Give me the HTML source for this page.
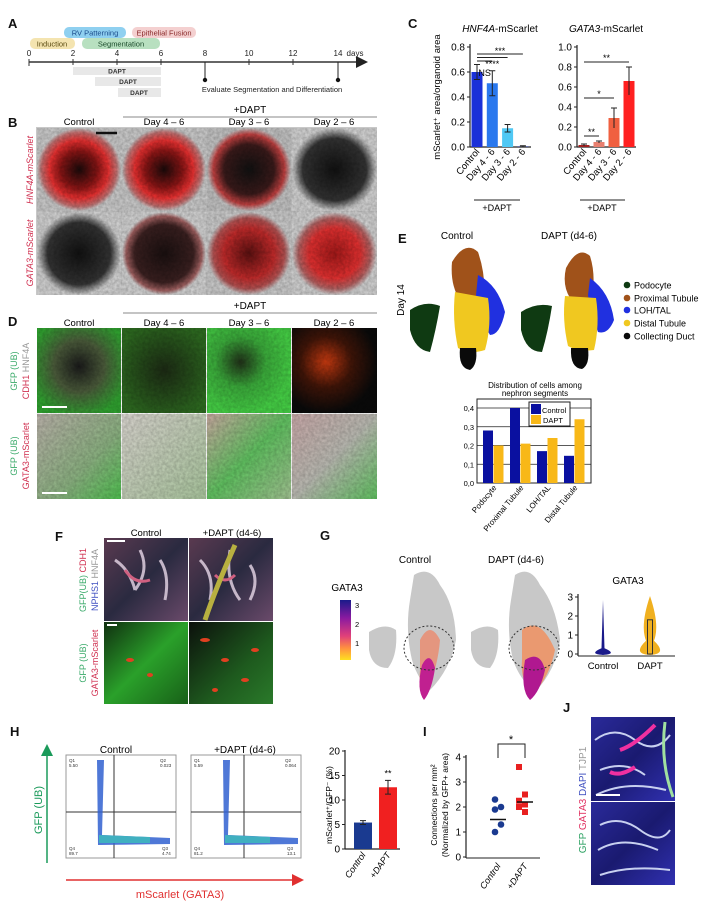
<!DOCTYPE html>
<html><head><meta charset="utf-8">
<style>
html,body{margin:0;padding:0;background:#fff;}
svg{display:block;font-family:"Liberation Sans",Arial,sans-serif;}
</style></head>
<body>
<svg id="fig" width="711" height="904" viewBox="0 0 711 904" xmlns="http://www.w3.org/2000/svg">
<defs>
<filter id="tex" x="0" y="0" width="100%" height="100%"><feTurbulence type="fractalNoise" baseFrequency="0.35" numOctaves="2" seed="3"/><feColorMatrix type="matrix" values="0 0 0 0 0  0 0 0 0 0  0 0 0 0 0  0 0 0 0.6 -0.1"/><feComposite in2="SourceGraphic" operator="in"/></filter>
<radialGradient id="bRed1" cx="50%" cy="50%" r="50%"><stop offset="0" stop-color="#1a0a0a"/><stop offset="0.45" stop-color="#8a1515"/><stop offset="0.7" stop-color="#e83030"/><stop offset="0.9" stop-color="#c07070"/><stop offset="1" stop-color="#c8c8c8"/></radialGradient>
<radialGradient id="bRed2" cx="50%" cy="50%" r="50%"><stop offset="0" stop-color="#111"/><stop offset="0.6" stop-color="#3a1a1a"/><stop offset="0.85" stop-color="#c04040"/><stop offset="1" stop-color="#c0c0c0"/></radialGradient>
<radialGradient id="bDark" cx="50%" cy="50%" r="50%"><stop offset="0" stop-color="#111"/><stop offset="0.75" stop-color="#333"/><stop offset="1" stop-color="#d0d0d0"/></radialGradient>
<radialGradient id="bDark2" cx="50%" cy="50%" r="50%"><stop offset="0" stop-color="#1a1010"/><stop offset="0.7" stop-color="#3a2020"/><stop offset="0.9" stop-color="#a06060"/><stop offset="1" stop-color="#d0d0d0"/></radialGradient>
<radialGradient id="bRedS" cx="50%" cy="50%" r="50%"><stop offset="0" stop-color="#5a1010"/><stop offset="0.6" stop-color="#c02a2a"/><stop offset="0.85" stop-color="#b05050"/><stop offset="1" stop-color="#c8c8c8"/></radialGradient>
<radialGradient id="bRedB" cx="50%" cy="50%" r="50%"><stop offset="0" stop-color="#a01818"/><stop offset="0.6" stop-color="#e03030"/><stop offset="0.85" stop-color="#b06060"/><stop offset="1" stop-color="#cfcfcf"/></radialGradient>
<radialGradient id="dC" cx="50%" cy="45%" r="60%"><stop offset="0" stop-color="#1a1a1a"/><stop offset="0.5" stop-color="#4a5a3a"/><stop offset="1" stop-color="#2fa02f"/></radialGradient>
<radialGradient id="d4" cx="50%" cy="50%" r="60%"><stop offset="0" stop-color="#1c2a14"/><stop offset="1" stop-color="#2d6a20"/></radialGradient>
<radialGradient id="d3" cx="40%" cy="40%" r="60%"><stop offset="0" stop-color="#203018"/><stop offset="0.5" stop-color="#3aa83a"/><stop offset="1" stop-color="#44cc44"/></radialGradient>
<radialGradient id="d2" cx="40%" cy="40%" r="60%"><stop offset="0" stop-color="#c83a10"/><stop offset="0.5" stop-color="#401508"/><stop offset="1" stop-color="#0a0a0a"/></radialGradient>
<linearGradient id="dL" x1="0" y1="0" x2="1" y2="1"><stop offset="0" stop-color="#b8b0a8"/><stop offset="0.6" stop-color="#8ab080"/><stop offset="1" stop-color="#50c050"/></linearGradient>
<linearGradient id="dL2" x1="0" y1="0" x2="1" y2="1"><stop offset="0" stop-color="#d6d2cc"/><stop offset="1" stop-color="#a8c49c"/></linearGradient>
<linearGradient id="dL3" x1="0" y1="0" x2="1" y2="1"><stop offset="0" stop-color="#c8a8a0"/><stop offset="0.5" stop-color="#60c060"/><stop offset="1" stop-color="#a0c090"/></linearGradient>
<linearGradient id="dL4" x1="0" y1="0" x2="1" y2="1"><stop offset="0" stop-color="#c8a8a8"/><stop offset="0.5" stop-color="#b8b8b0"/><stop offset="1" stop-color="#60c060"/></linearGradient>
<linearGradient id="fTop" x1="0" y1="0" x2="1" y2="1"><stop offset="0" stop-color="#5a3a50"/><stop offset="0.5" stop-color="#2a2a40"/><stop offset="1" stop-color="#6a4a6a"/></linearGradient>
<linearGradient id="fBot" x1="0" y1="0" x2="1" y2="1"><stop offset="0" stop-color="#103010"/><stop offset="0.5" stop-color="#2aa02a"/><stop offset="1" stop-color="#186018"/></linearGradient>
<linearGradient id="fBot2" x1="0" y1="0" x2="1" y2="1"><stop offset="0" stop-color="#0c100c"/><stop offset="0.6" stop-color="#1e5a1e"/><stop offset="1" stop-color="#2a7a2a"/></linearGradient>
<linearGradient id="jImg" x1="0" y1="0" x2="1" y2="1"><stop offset="0" stop-color="#2a2a9a"/><stop offset="0.5" stop-color="#1a1a70"/><stop offset="1" stop-color="#3030b0"/></linearGradient>
<linearGradient id="cbar" x1="0" y1="0" x2="0" y2="1"><stop offset="0" stop-color="#1a1a8a"/><stop offset="0.3" stop-color="#8a1aa0"/><stop offset="0.6" stop-color="#e0407a"/><stop offset="0.8" stop-color="#ff9040"/><stop offset="1" stop-color="#ffe020"/></linearGradient>
<marker id="arrG" markerWidth="8" markerHeight="8" refX="4" refY="4" orient="auto"><path d="M0,0 L8,4 L0,8z" fill="#1a9a5a"/></marker>
<marker id="arrR" markerWidth="8" markerHeight="8" refX="4" refY="4" orient="auto"><path d="M0,0 L8,4 L0,8z" fill="#e03030"/></marker>
<marker id="arrK" markerWidth="8" markerHeight="8" refX="4" refY="4" orient="auto"><path d="M0,0 L8,4 L0,8z" fill="#222"/></marker>
</defs>

<!-- Panel letters -->
<g font-weight="bold" font-size="13" fill="#111">
<text x="8" y="28">A</text><text x="8" y="127">B</text><text x="408" y="28">C</text>
<text x="8" y="326">D</text><text x="398" y="243">E</text><text x="55" y="541">F</text>
<text x="320" y="540">G</text><text x="10" y="736">H</text><text x="423" y="736">I</text><text x="563" y="712">J</text>
</g>

<!-- Panel A timeline -->
<g>
<rect x="64" y="27" width="62" height="11" rx="5" fill="#8fd0f0"/>
<text x="95" y="35.5" font-size="7.5" text-anchor="middle" fill="#1a4a8a">RV Patterning</text>
<rect x="132" y="27" width="64" height="11" rx="5" fill="#f4d0d0"/>
<text x="164" y="35.5" font-size="7.5" text-anchor="middle" fill="#8a2a2a">Epithelial Fusion</text>
<rect x="30" y="38" width="45" height="11" rx="5" fill="#f4e4b0"/>
<text x="52" y="46.5" font-size="7.5" text-anchor="middle" fill="#5a4a10">Induction</text>
<rect x="82" y="38" width="78" height="11" rx="5" fill="#b8e0c0"/>
<text x="121" y="46.5" font-size="7.5" text-anchor="middle" fill="#1a4a2a">Segmentation</text>
<line x1="29" y1="62" x2="362" y2="62" stroke="#333" stroke-width="1.5" marker-end="url(#arrK)"/>
<g font-size="8" text-anchor="middle" fill="#222">
<text x="29" y="56">0</text><text x="73" y="56">2</text><text x="117" y="56">4</text><text x="161" y="56">6</text><text x="205" y="56">8</text><text x="249" y="56">10</text><text x="293" y="56">12</text><text x="338" y="56">14</text><text x="355" y="56">days</text>
</g>
<g stroke="#333" stroke-width="1"><line x1="29" y1="59" x2="29" y2="66"/><line x1="73" y1="59" x2="73" y2="65"/><line x1="117" y1="59" x2="117" y2="65"/><line x1="161" y1="59" x2="161" y2="65"/><line x1="249" y1="59" x2="249" y2="65"/><line x1="293" y1="59" x2="293" y2="65"/></g>
<rect x="73" y="67" width="88" height="8" fill="#e8e8e8"/>
<text x="117" y="73.5" font-size="6.5" text-anchor="middle" font-weight="bold" fill="#333">DAPT</text>
<rect x="95" y="77" width="66" height="9" fill="#e8e8e8"/>
<text x="128" y="84" font-size="6.5" text-anchor="middle" font-weight="bold" fill="#333">DAPT</text>
<rect x="118" y="88" width="43" height="9" fill="#e8e8e8"/>
<text x="139" y="95" font-size="6.5" text-anchor="middle" font-weight="bold" fill="#333">DAPT</text>
<line x1="205" y1="62" x2="205" y2="80" stroke="#222"/><circle cx="205" cy="80" r="2.2" fill="#111"/>
<line x1="338" y1="62" x2="338" y2="80" stroke="#222"/><circle cx="338" cy="80" r="2.2" fill="#111"/>
<text x="272" y="92" font-size="7.5" text-anchor="middle" fill="#222">Evaluate Segmentation and Differentiation</text>
</g>

<!-- Panel B -->
<g>
<text x="250" y="113" font-size="10" text-anchor="middle">+DAPT</text>
<line x1="123" y1="117" x2="377" y2="117" stroke="#888"/>
<g font-size="9.5" text-anchor="middle"><text x="79" y="125">Control</text><text x="164" y="125">Day 4 – 6</text><text x="249" y="125">Day 3 – 6</text><text x="334" y="125">Day 2 – 6</text></g>
<rect x="36" y="127" width="341" height="168" fill="#c8c8c8"/>
<rect x="37" y="128" width="84" height="83" fill="url(#bRed1)"/>
<rect x="122" y="128" width="84" height="83" fill="url(#bRed1)"/>
<rect x="207" y="128" width="84" height="83" fill="url(#bRed2)"/>
<rect x="292" y="128" width="85" height="83" fill="url(#bDark)"/>
<rect x="37" y="212" width="84" height="83" fill="url(#bDark)"/>
<rect x="122" y="212" width="84" height="83" fill="url(#bDark2)"/>
<rect x="207" y="212" width="84" height="83" fill="url(#bRedS)"/>
<rect x="292" y="212" width="85" height="83" fill="url(#bRedB)"/>
<rect x="37" y="128" width="340" height="167" fill="#888" filter="url(#tex)" opacity="0.5"/>
<line x1="96" y1="133" x2="117" y2="133" stroke="#111" stroke-width="2.5"/>
<text transform="translate(33,170) rotate(-90)" font-size="9" font-style="italic" fill="#d03050" text-anchor="middle">HNF4A-mScarlet</text>
<text transform="translate(33,253) rotate(-90)" font-size="9" font-style="italic" fill="#d03050" text-anchor="middle">GATA3-mScarlet</text>
</g>

<!-- Panel D -->
<g>
<text x="250" y="309" font-size="10" text-anchor="middle">+DAPT</text>
<line x1="123" y1="313" x2="377" y2="313" stroke="#888"/>
<g font-size="9.5" text-anchor="middle"><text x="79" y="326">Control</text><text x="164" y="326">Day 4 – 6</text><text x="249" y="326">Day 3 – 6</text><text x="334" y="326">Day 2 – 6</text></g>
<rect x="37" y="328" width="84" height="85" fill="url(#dC)"/>
<rect x="122" y="328" width="84" height="85" fill="url(#d4)"/>
<rect x="207" y="328" width="84" height="85" fill="url(#d3)"/>
<rect x="292" y="328" width="85" height="85" fill="url(#d2)"/>
<rect x="37" y="414" width="84" height="85" fill="url(#dL)"/>
<rect x="122" y="414" width="84" height="85" fill="url(#dL2)"/>
<rect x="207" y="414" width="84" height="85" fill="url(#dL3)"/>
<rect x="292" y="414" width="85" height="85" fill="url(#dL4)"/>
<rect x="37" y="328" width="340" height="171" fill="#888" filter="url(#tex)" opacity="0.45"/>
<line x1="42" y1="407" x2="67" y2="407" stroke="#fff" stroke-width="2"/>
<line x1="42" y1="493" x2="67" y2="493" stroke="#fff" stroke-width="2"/>
<text transform="translate(17,371) rotate(-90)" font-size="9" text-anchor="middle"><tspan fill="#3aaa6a">GFP (UB)</tspan></text>
<text transform="translate(29,371) rotate(-90)" font-size="9" text-anchor="middle"><tspan fill="#d03050">CDH1 </tspan><tspan fill="#999">HNF4A</tspan></text>
<text transform="translate(17,456) rotate(-90)" font-size="9" text-anchor="middle" fill="#3aaa6a">GFP (UB)</text>
<text transform="translate(29,456) rotate(-90)" font-size="9" text-anchor="middle" fill="#d03050">GATA3-mScarlet</text>
</g>

<!-- Panel C static -->
<g>
<text x="500" y="32" font-size="10" text-anchor="middle"><tspan font-style="italic">HNF4A</tspan>-mScarlet</text>
<text x="606" y="32" font-size="10" text-anchor="middle"><tspan font-style="italic">GATA3</tspan>-mScarlet</text>
<text transform="translate(440,97) rotate(-90)" font-size="9.5" text-anchor="middle">mScarlet⁺ area/organoid area</text>
<line x1="474" y1="200" x2="520" y2="200" stroke="#222"/><text x="497" y="211" font-size="9" text-anchor="middle">+DAPT</text>
<line x1="580" y1="200" x2="625" y2="200" stroke="#222"/><text x="602" y="211" font-size="9" text-anchor="middle">+DAPT</text>
</g>
<g id="cLeft"></g><g id="cRight"></g>

<!-- Panel E UMAP -->
<g>
<text x="457" y="239" font-size="10" text-anchor="middle">Control</text>
<text x="569" y="239" font-size="10" text-anchor="middle">DAPT (d4-6)</text>
<text transform="translate(404,300) rotate(-90)" font-size="10" text-anchor="middle">Day 14</text>
<g>
<path d="M410,310 Q425,300 440,306 Q436,330 430,352 Q415,350 410,330 Z" fill="#0f3a12"/>
<path d="M452,262 Q465,240 478,252 Q486,275 484,300 L460,300 Q450,285 452,262Z" fill="#a0521a"/>
<path d="M478,275 Q498,285 505,312 Q500,335 490,335 Q478,315 476,295Z" fill="#2030e0"/>
<path d="M455,292 L488,298 Q492,325 485,350 Q470,355 458,348 Q452,320 455,292Z" fill="#f0c820"/>
<path d="M460,348 L476,348 Q478,365 470,370 Q458,368 460,348Z" fill="#0a0a0a"/>
</g>
<g>
<path d="M521,312 Q536,302 552,306 Q548,332 542,352 Q526,352 521,330 Z" fill="#0f3a12"/>
<path d="M566,268 Q578,245 590,256 Q596,275 592,298 L570,298 Q562,285 566,268Z" fill="#a0521a"/>
<path d="M590,278 Q610,292 614,320 Q608,335 598,332 Q590,312 588,295Z" fill="#2030e0"/>
<path d="M565,296 L596,298 Q600,325 594,350 Q578,352 568,346 Q562,320 565,296Z" fill="#f0c820"/>
<path d="M571,348 L588,348 Q590,365 582,369 Q570,368 571,348Z" fill="#0a0a0a"/>
</g>
<g font-size="9">
<circle cx="627" cy="285" r="3.3" fill="#0f3a12"/><text x="634" y="288.5">Podocyte</text>
<circle cx="627" cy="298" r="3.3" fill="#a0521a"/><text x="634" y="301.5">Proximal Tubule</text>
<circle cx="627" cy="310" r="3.3" fill="#2030e0"/><text x="634" y="313.5">LOH/TAL</text>
<circle cx="627" cy="323" r="3.3" fill="#f0c820"/><text x="634" y="326.5">Distal Tubule</text>
<circle cx="627" cy="336" r="3.3" fill="#0a0a0a"/><text x="634" y="339.5">Collecting Duct</text>
</g>
<text x="535" y="388" font-size="8" text-anchor="middle">Distribution of cells among</text>
<text x="535" y="396" font-size="8" text-anchor="middle">nephron segments</text>
</g>
<g id="eBar"></g>

<!-- Panel F -->
<g>
<text x="146" y="536" font-size="9.5" text-anchor="middle">Control</text>
<text x="232" y="536" font-size="9.5" text-anchor="middle">+DAPT (d4-6)</text>
<rect x="104" y="538" width="84" height="83" fill="url(#fTop)"/>
<rect x="189" y="538" width="84" height="83" fill="url(#fTop)"/>
<rect x="104" y="622" width="84" height="82" fill="url(#fBot)"/>
<rect x="189" y="622" width="84" height="82" fill="url(#fBot2)"/>
<path d="M115,560 q15,10 20,30 M140,550 q10,20 -5,40 M160,560 q10,15 5,40 M200,560 q15,15 10,40 M230,550 q-5,30 10,50 M250,565 q10,15 0,35" stroke="#e8d8e8" stroke-width="3" fill="none" opacity="0.8"/>
<path d="M125,570 q10,15 25,10 M215,575 q10,10 20,0" stroke="#d06080" stroke-width="3" fill="none"/>
<path d="M205,620 Q215,590 235,545" stroke="#b8b040" stroke-width="5" fill="none"/>
<g fill="#e04020"><ellipse cx="130" cy="660" rx="4" ry="2"/><ellipse cx="150" cy="675" rx="3" ry="2"/><ellipse cx="205" cy="640" rx="5" ry="2"/><ellipse cx="225" cy="660" rx="4" ry="2"/><ellipse cx="245" cy="680" rx="4" ry="2"/><ellipse cx="215" cy="690" rx="3" ry="2"/><ellipse cx="255" cy="650" rx="4" ry="2"/></g>
<line x1="107" y1="541" x2="125" y2="541" stroke="#fff" stroke-width="2"/>
<line x1="107" y1="625" x2="117" y2="625" stroke="#fff" stroke-width="2"/>
<text transform="translate(86,580) rotate(-90)" font-size="9" text-anchor="middle"><tspan fill="#3aaa6a">GFP(UB) </tspan><tspan fill="#d03050">CDH1</tspan></text>
<text transform="translate(98,580) rotate(-90)" font-size="9" text-anchor="middle"><tspan fill="#4050c0">NPHS1 </tspan><tspan fill="#999">HNF4A</tspan></text>
<text transform="translate(86,663) rotate(-90)" font-size="9" text-anchor="middle" fill="#3aaa6a">GFP (UB)</text>
<text transform="translate(98,663) rotate(-90)" font-size="9" text-anchor="middle" fill="#d03050">GATA3-mScarlet</text>
</g>

<!-- Panel G -->
<g>
<text x="415" y="563" font-size="10" text-anchor="middle">Control</text>
<text x="516" y="563" font-size="10" text-anchor="middle">DAPT (d4-6)</text>
<text x="347" y="591" font-size="10" text-anchor="middle">GATA3</text>
<rect x="340" y="600" width="11" height="60" fill="url(#cbar)"/>
<g font-size="7.5"><text x="355" y="608">3</text><text x="355" y="627">2</text><text x="355" y="646">1</text></g>
<g>
<path d="M369,632 Q385,622 396,630 Q398,655 388,668 Q372,668 369,650Z" fill="#c8c8c8"/>
<path d="M414,575 Q430,565 440,585 Q455,605 456,640 Q450,670 430,690 Q418,680 412,660 Q405,630 410,600Z" fill="#c8c8c8"/>
<path d="M420,640 Q430,620 440,640 Q438,665 428,690 Q418,690 420,670Z" fill="#f08060" opacity="0.7"/>
<path d="M422,665 Q430,650 435,668 Q432,690 424,700 Q416,690 422,665Z" fill="#c02090"/>
<ellipse cx="429" cy="648" rx="25" ry="22" fill="none" stroke="#333" stroke-dasharray="2,2"/>
</g>
<g>
<path d="M471,632 Q487,622 498,630 Q500,655 490,668 Q474,668 471,650Z" fill="#c8c8c8"/>
<path d="M515,575 Q530,565 540,585 Q556,605 560,640 Q556,670 535,692 Q520,680 513,660 Q506,630 511,600Z" fill="#c8c8c8"/>
<path d="M522,630 Q540,615 555,650 Q550,675 535,692 Q520,685 522,660Z" fill="#f09060" opacity="0.85"/>
<path d="M525,660 Q540,650 545,670 Q540,692 530,700 Q520,690 525,660Z" fill="#b01890"/>
<ellipse cx="534" cy="648" rx="25" ry="22" fill="none" stroke="#333" stroke-dasharray="2,2"/>
</g>
<text x="628" y="584" font-size="10" text-anchor="middle">GATA3</text>
</g>
<g id="gViolin"></g>

<!-- Panel H static flow plots -->
<g>
<text x="116" y="753" font-size="10" text-anchor="middle">Control</text>
<text x="245" y="753" font-size="10" text-anchor="middle">+DAPT (d4-6)</text>
<rect x="66" y="755" width="110" height="103" fill="#fff" stroke="#999"/>
<rect x="191" y="755" width="110" height="103" fill="#fff" stroke="#999"/>
<line x1="114" y1="755" x2="114" y2="858" stroke="#333"/><line x1="66" y1="812" x2="176" y2="812" stroke="#333"/>
<line x1="244" y1="755" x2="244" y2="858" stroke="#333"/><line x1="191" y1="812" x2="301" y2="812" stroke="#333"/>
<path d="M97,760 L104,760 L102,835 L170,838 L170,844 L98,845 Z" fill="#3060d0" opacity="0.85"/>
<path d="M99,835 L150,837 L150,843 L99,843Z" fill="#40b0c0"/>
<path d="M223,760 L230,760 L228,835 L298,838 L298,844 L224,845 Z" fill="#3060d0" opacity="0.85"/>
<path d="M225,835 L270,837 L270,843 L225,843Z" fill="#40b0c0"/>
<g font-size="4.5" fill="#333"><text x="69" y="762">Q1</text><text x="69" y="767">5.50</text><text x="160" y="762">Q2</text><text x="160" y="767">0.023</text><text x="69" y="850">Q4</text><text x="69" y="855">89.7</text><text x="162" y="850">Q3</text><text x="162" y="855">4.74</text>
<text x="194" y="762">Q1</text><text x="194" y="767">5.59</text><text x="285" y="762">Q2</text><text x="285" y="767">0.064</text><text x="194" y="850">Q4</text><text x="194" y="855">81.2</text><text x="287" y="850">Q3</text><text x="287" y="855">13.1</text></g>
<line x1="47" y1="863" x2="47" y2="750" stroke="#1a9a5a" stroke-width="1.5" marker-end="url(#arrG)"/>
<text transform="translate(42,810) rotate(-90)" font-size="11" fill="#1a9a5a" text-anchor="middle">GFP (UB)</text>
<line x1="66" y1="880" x2="298" y2="880" stroke="#e03030" stroke-width="1.5" marker-end="url(#arrR)"/>
<text x="180" y="898" font-size="11" fill="#e03030" text-anchor="middle">mScarlet (GATA3)</text>
<text transform="translate(332,805) rotate(-90)" font-size="8.5" text-anchor="middle">mScarlet⁺/GFP⁻ (%)</text>
</g>
<g id="hBar"></g>

<!-- Panel I -->
<g>
<text transform="translate(437,805) rotate(-90)" font-size="8.5" text-anchor="middle">Connections per mm²</text>
<text transform="translate(448,805) rotate(-90)" font-size="8.5" text-anchor="middle">(Normalized by GFP+ area)</text>
<path d="M498,758 L498,744 L525,744 L525,758" fill="none" stroke="#222"/>
<text x="511" y="743" font-size="11" text-anchor="middle">*</text>
</g>
<g id="iDot"></g>

<!-- Panel J -->
<g>
<rect x="591" y="717" width="84" height="84" fill="url(#jImg)"/>
<rect x="591" y="802" width="84" height="83" fill="url(#jImg)"/>
<path d="M595,740 q20,-15 40,0 t35,-5 M600,770 q25,-10 45,5 M596,795 q30,-15 70,-5 M600,825 q20,-10 40,5 t30,0 M598,850 q25,-15 60,0 M600,875 q30,-10 70,-5" stroke="#c8d0f0" stroke-width="2" fill="none"/>
<path d="M620,750 q15,-5 35,-25 M610,772 q10,5 25,-5" stroke="#f030a0" stroke-width="4" fill="none"/>
<path d="M665,722 q-5,40 8,75" stroke="#a0e0a0" stroke-width="3" fill="none"/>
<line x1="596" y1="795" x2="620" y2="795" stroke="#fff" stroke-width="2"/>
<text transform="translate(586,800) rotate(-90)" font-size="10" text-anchor="middle"><tspan fill="#2aa060">GFP </tspan><tspan fill="#e03060">GATA3 </tspan><tspan fill="#4050c0">DAPI </tspan><tspan fill="#999">TJP1</tspan></text>
</g>

<script>
// ---- Panel C data ----
const cCats = ["Control", "Day 4 - 6", "Day 3 - 6", "Day 2 - 6"];
const cHnfVals = [0.60, 0.51, 0.15, 0.005];
const cHnfErr = [0.06, 0.10, 0.03, 0.005];
const cHnfTicks = [0, 0.2, 0.4, 0.6, 0.8];
const cGataVals = [0.02, 0.05, 0.29, 0.66];
const cGataErr = [0.01, 0.01, 0.10, 0.14];
const cGataTicks = [0, 0.2, 0.4, 0.6, 0.8, 1.0];
// ---- Panel E data ----
const eCats = ["Podocyte", "Proximal Tubule", "LOH/TAL", "Distal Tubule"];
const eControl = [0.28, 0.40, 0.17, 0.145];
const eDapt = [0.20, 0.21, 0.24, 0.34];
const eTicks = [0, 0.1, 0.2, 0.3, 0.4];
// ---- Panel H data ----
const hCats = ["Control", "+DAPT"];
const hVals = [5.4, 12.6];
const hErr = [0.4, 1.4];
const hTicks = [0, 5, 10, 15, 20];
// ---- Panel I data ----
const iCats = ["Control", "+DAPT"];
const iControl = [2.3, 2.0, 1.9, 1.3, 1.0];
const iDapt = [3.6, 2.5, 2.25, 2.1, 2.0, 1.8];
const iMeans = [1.5, 2.2];
const iTicks = [0, 1, 2, 3, 4];
// ---- Panel G violin data ----
const gCats = ["Control", "DAPT"];
const gTicks = [0, 1, 2, 3];
const gMax = [2.85, 3.05];

const NS = "http://www.w3.org/2000/svg";
function mk(parent, tag, attrs, txt) {
  const el = document.createElementNS(NS, tag);
  for (const k in attrs) el.setAttribute(k, attrs[k]);
  if (txt !== undefined) el.textContent = txt;
  parent.appendChild(el);
  return el;
}
function axisY(g, x, y0, y1, ticks, scale, fmt, name) {
  const ax = mk(g, "line", {x1: x, y1: y0, x2: x, y2: y1, stroke: "#222", "stroke-width": 1.2});
  
  
  ticks.forEach(t => {
    const y = scale(t);
    mk(g, "line", {x1: x - 3, y1: y, x2: x, y2: y, stroke: "#222"});
    const tl = mk(g, "text", {x: x - 5, y: y + 3.5, "font-size": 10, "text-anchor": "end"}, fmt(t));
    
    
  });
}

// Panel C left
(function(){
  const g = document.getElementById("cLeft");
  const y = v => 147 - v / 0.8 * 100;
  const x = i => 477 + i * 15.3;
  const cols = ["#1a30d8", "#2a78ee", "#50c8f4", "#3040a0"];
  axisY(g, 470, 44, 147, cHnfTicks, y, t => t.toFixed(1), "c-hnf4a-y-axis");
  mk(g, "line", {x1: 470, y1: 147, x2: 531, y2: 147, stroke: "#222", "stroke-width": 1.2});
  cHnfVals.forEach((v, i) => {
    const b = mk(g, "rect", {x: x(i) - 5.5, y: y(v), width: 11, height: Math.max(0.5, 147 - y(v)), fill: cols[i]});
    
    
    mk(g, "path", {d: `M${x(i)},${y(v + cHnfErr[i])}V${y(Math.max(0, v - cHnfErr[i]))}M${x(i)-3},${y(v + cHnfErr[i])}h6M${x(i)-3},${y(Math.max(0, v - cHnfErr[i]))}h6`, stroke: "#222", fill: "none"});
    const l = mk(g, "text", {transform: `translate(${x(i) + 3},152) rotate(-50)`, "font-size": 9.5, "text-anchor": "end"}, cCats[i]);
    
    
  });
  mk(g, "path", {d: `M${x(0)},61H${x(1)}M${x(0)},${y(0.62)-12}H${x(2)}M${x(0)},54H${x(3)}`, stroke: "#222", fill: "none"});
  mk(g, "text", {x: (x(0)+x(1))/2, y: 76, "font-size": 9, "text-anchor": "middle"}, "NS");
  mk(g, "text", {x: (x(0)+x(2))/2, y: 67, "font-size": 9, "text-anchor": "middle"}, "****");
  mk(g, "text", {x: (x(0)+x(3))/2, y: 54, "font-size": 9, "text-anchor": "middle"}, "***");
})();

// Panel C right
(function(){
  const g = document.getElementById("cRight");
  const y = v => 147 - v * 100;
  const x = i => 584 + i * 15;
  const cols = ["#a02020", "#e88070", "#f06040", "#ff2020"];
  axisY(g, 577, 45, 147, cGataTicks, y, t => t.toFixed(1), "c-gata3-y-axis");
  mk(g, "line", {x1: 577, y1: 147, x2: 636, y2: 147, stroke: "#222", "stroke-width": 1.2});
  cGataVals.forEach((v, i) => {
    const b = mk(g, "rect", {x: x(i) - 5.5, y: y(v), width: 11, height: 147 - y(v), fill: cols[i]});
    
    
    mk(g, "path", {d: `M${x(i)},${y(v + cGataErr[i])}V${y(Math.max(0, v - cGataErr[i]))}M${x(i)-3},${y(v + cGataErr[i])}h6`, stroke: "#222", fill: "none"});
    const l = mk(g, "text", {transform: `translate(${x(i) + 3},152) rotate(-50)`, "font-size": 9.5, "text-anchor": "end"}, cCats[i]);
    
    
  });
  mk(g, "path", {d: `M${x(0)},136H${x(1)}M${x(0)},98H${x(2)}M${x(0)},62H${x(3)}`, stroke: "#222", fill: "none"});
  mk(g, "text", {x: (x(0)+x(1))/2, y: 135, "font-size": 9, "text-anchor": "middle"}, "**");
  mk(g, "text", {x: (x(0)+x(2))/2, y: 97, "font-size": 9, "text-anchor": "middle"}, "*");
  mk(g, "text", {x: (x(0)+x(3))/2, y: 61, "font-size": 9, "text-anchor": "middle"}, "**");
})();

// Panel E bar chart
(function(){
  const g = document.getElementById("eBar");
  const y = v => 483 - v / 0.4 * 75;
  const x0 = i => 483 + i * 27;
  mk(g, "rect", {x: 477, y: 399, width: 114, height: 84, fill: "#fff", stroke: "#222"});
  eTicks.forEach(t => {
    mk(g, "line", {x1: 477, y1: y(t), x2: 591, y2: y(t), stroke: "#222", "stroke-width": 0.8});
    const tl = mk(g, "text", {x: 474, y: y(t) + 3, "font-size": 7.5, "text-anchor": "end"}, t.toFixed(1).replace(".", ","));
    
    
  });
  eCats.forEach((c, i) => {
    const b1 = mk(g, "rect", {x: x0(i), y: y(eControl[i]), width: 10, height: 483 - y(eControl[i]), fill: "#0a10a0"});
    
    
    const b2 = mk(g, "rect", {x: x0(i) + 10.5, y: y(eDapt[i]), width: 10, height: 483 - y(eDapt[i]), fill: "#f8b818"});
    
    
    const l = mk(g, "text", {transform: `translate(${x0(i) + 14},488) rotate(-50)`, "font-size": 8, "text-anchor": "end"}, c);
    
    
  });
  const lg = mk(g, "g", {});
  
  
  mk(lg, "rect", {x: 529, y: 402, width: 41, height: 24, fill: "#fff", stroke: "#222"});
  mk(lg, "rect", {x: 531, y: 404, width: 10, height: 10, fill: "#0a10a0"});
  mk(lg, "text", {x: 542, y: 413, "font-size": 7.5}, "Control");
  mk(lg, "rect", {x: 531, y: 415, width: 10, height: 9, fill: "#f8b818"});
  mk(lg, "text", {x: 543, y: 423, "font-size": 7.5}, "DAPT");
})();

// Panel G violin
(function(){
  const g = document.getElementById("gViolin");
  const y = v => 654 - v * 19;
  const xs = [603, 650];
  axisY(g, 578, 594, 656, gTicks, y, t => String(t), "g-violin-y-axis");
  mk(g, "line", {x1: 578, y1: 656, x2: 675, y2: 656, stroke: "#222"});
  const v1 = mk(g, "path", {d: `M${xs[0]},${y(gMax[0])} L${xs[0]+1.5},${y(0.3)} Q${xs[0]+15},${y(0)} ${xs[0]},${y(-0.05)} Q${xs[0]-15},${y(0)} ${xs[0]-1.5},${y(0.3)}Z`, fill: "#1a1a8a"});
  
  
  const v2 = mk(g, "path", {d: `M${xs[1]},${y(gMax[1])} Q${xs[1]+10},${y(1.5)} ${xs[1]+4},${y(0.7)} Q${xs[1]+18},${y(0)} ${xs[1]},${y(-0.05)} Q${xs[1]-18},${y(0)} ${xs[1]-4},${y(0.7)} Q${xs[1]-10},${y(1.5)} ${xs[1]},${y(gMax[1])}Z`, fill: "#f0b020"});
  
  
  mk(g, "rect", {x: xs[1] - 2.5, y: y(1.8), width: 5, height: y(0) - y(1.8), fill: "none", stroke: "#333"});
  gCats.forEach((c, i) => {
    const l = mk(g, "text", {x: xs[i], y: 669, "font-size": 9.5, "text-anchor": "middle"}, c);
    
    
  });
})();

// Panel H bars
(function(){
  const g = document.getElementById("hBar");
  const y = v => 849 - v / 20 * 98;
  const xs = [363, 388];
  const cols = ["#1a3a90", "#f02020"];
  axisY(g, 345, 750, 849, hTicks, y, t => String(t), "h-y-axis");
  mk(g, "line", {x1: 345, y1: 849, x2: 400, y2: 849, stroke: "#222", "stroke-width": 1.2});
  hVals.forEach((v, i) => {
    const b = mk(g, "rect", {x: xs[i] - 9, y: y(v), width: 18, height: 849 - y(v), fill: cols[i]});
    
    
    mk(g, "path", {d: `M${xs[i]},${y(v + hErr[i])}V${y(v - hErr[i])}M${xs[i]-3},${y(v + hErr[i])}h6M${xs[i]-3},${y(v - hErr[i])}h6`, stroke: "#222", fill: "none"});
    const l = mk(g, "text", {transform: `translate(${xs[i] + 3},855) rotate(-55)`, "font-size": 9, "font-style": "italic", "text-anchor": "end"}, hCats[i]);
    
    
  });
  mk(g, "text", {x: xs[1], y: y(hVals[1] + hErr[1]) - 4, "font-size": 9, "text-anchor": "middle"}, "**");
})();

// Panel I dots
(function(){
  const g = document.getElementById("iDot");
  const y = v => 857 - v * 25;
  const xs = [498, 525];
  axisY(g, 466, 755, 858, iTicks, y, t => String(t), "i-y-axis");
  mk(g, "line", {x1: 466, y1: 858, x2: 540, y2: 858, stroke: "#222"});
  iControl.forEach((v, k) => {
    const c = mk(g, "circle", {cx: xs[0] + (k % 2 ? 3 : -3), cy: y(v), r: 3.3, fill: "#1a3a90"});
    
    
  });
  iDapt.forEach((v, k) => {
    const c = mk(g, "rect", {x: xs[1] + (k % 2 ? 0 : -6) - 3, y: y(v) - 3, width: 6, height: 6, fill: "#e82020"});
    
    
  });
  iMeans.forEach((m, i) => {
    const ml = mk(g, "line", {x1: xs[i] - 8, y1: y(m), x2: xs[i] + 8, y2: y(m), stroke: "#111", "stroke-width": 1.5});
    
    
    const l = mk(g, "text", {transform: `translate(${xs[i] + 3},866) rotate(-55)`, "font-size": 9, "font-style": "italic", "text-anchor": "end"}, iCats[i]);
    
    
  });
})();
</script>
</svg>
</body></html>
